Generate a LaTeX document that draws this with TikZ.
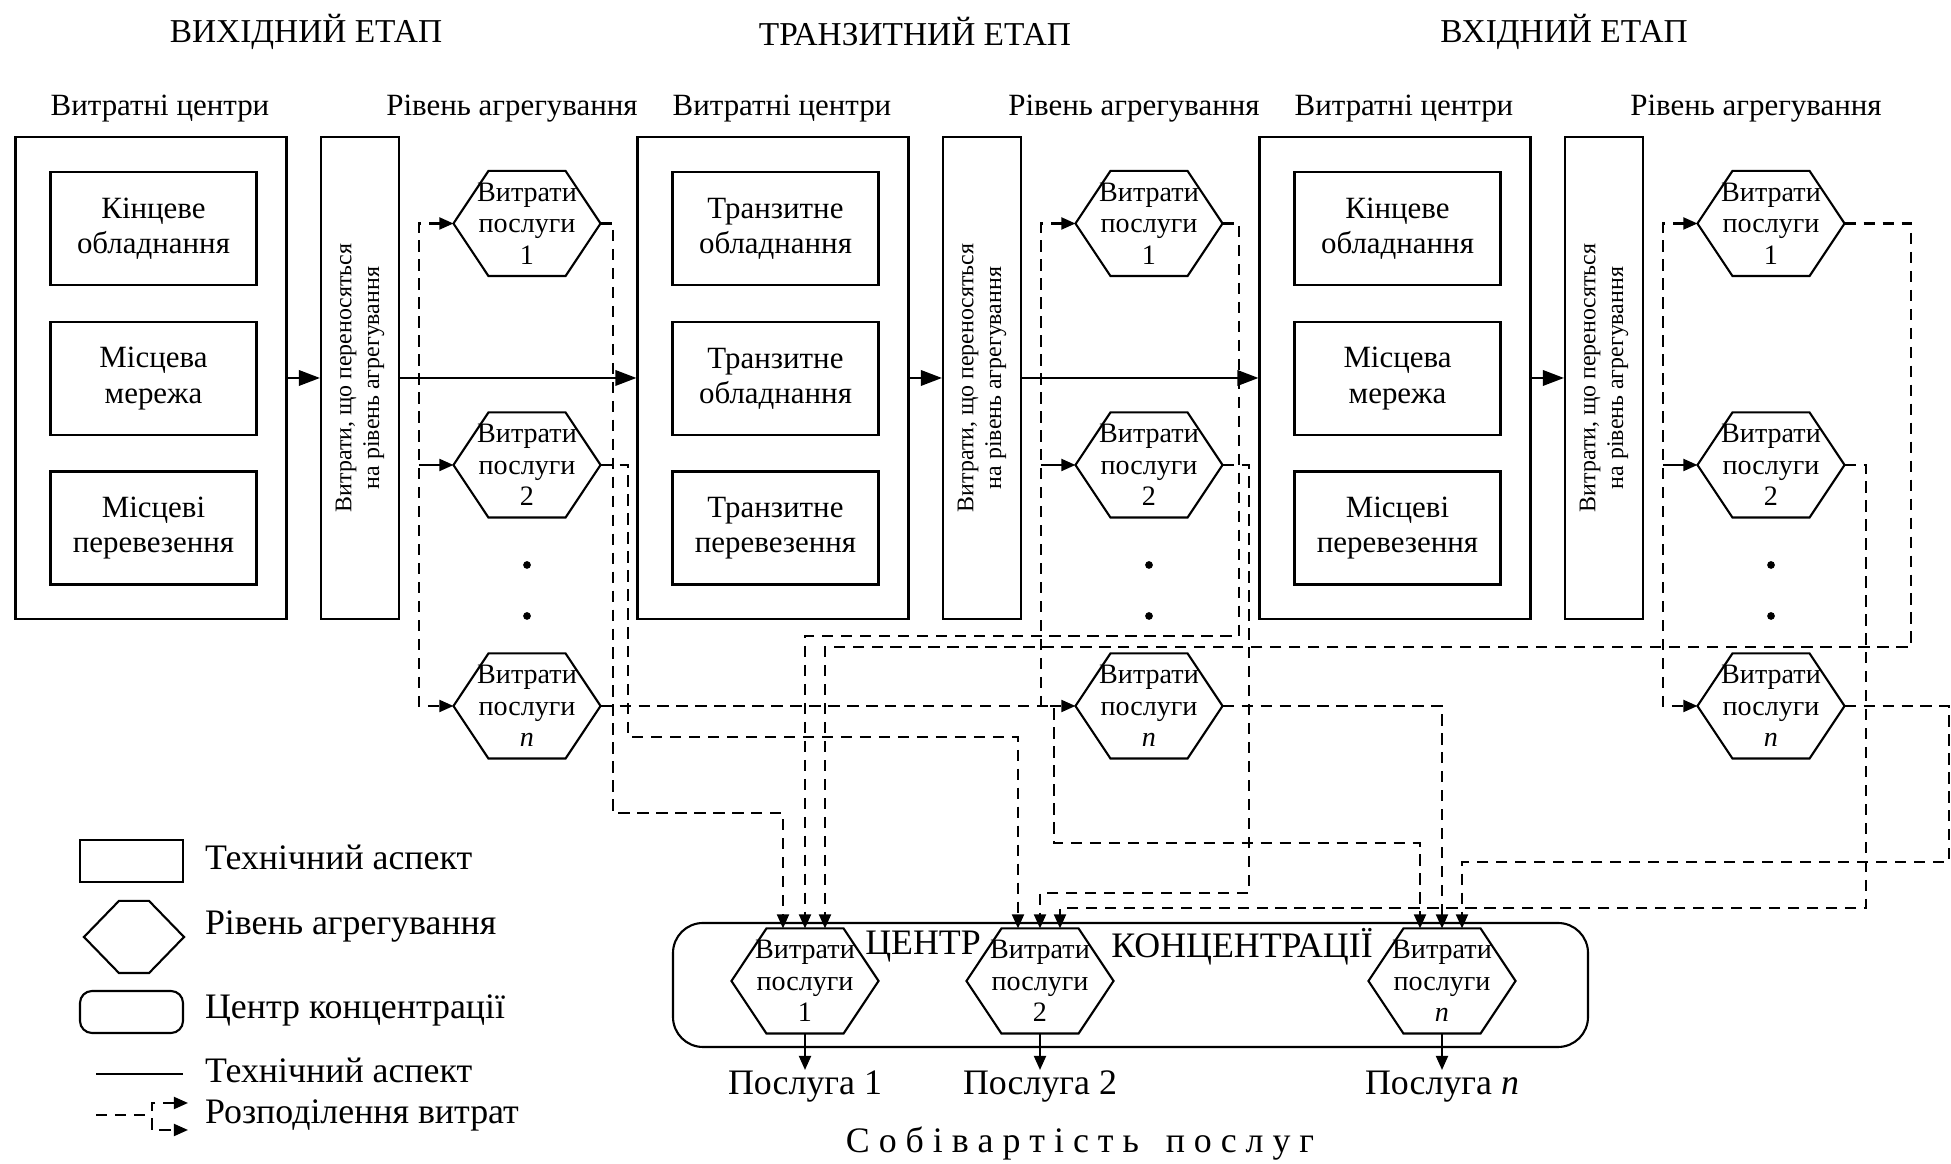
\documentclass[tikz,border=0pt]{standalone}
\usepackage{fontspec}
\setmainfont{Liberation Serif}
\usetikzlibrary{arrows.meta}
\newcommand{\fTitle}{\fontsize{9.5}{11}\selectfont}
\newcommand{\fSub}{\fontsize{8.8}{10}\selectfont}
\newcommand{\fHex}{\fontsize{8}{9}\selectfont}
\newcommand{\fBar}{\fontsize{6.8}{7.9}\selectfont}
\newcommand{\fBig}{\fontsize{10.2}{12}\selectfont}

\begin{document}
\begin{tikzpicture}[line width=0.6pt,
  >={Triangle[length=4pt,width=3.4pt]},
  box/.style={draw, inner sep=0pt},
  inbox/.style={box, minimum width=2.06cm, minimum height=1.13cm, align=center, font=\fSub},
  hexnode/.style={inner sep=0pt, minimum width=1.45cm, minimum height=1.03cm, align=center, font=\fHex},
  dist/.style={dash pattern=on 3.2pt off 2.2pt},
  bigarr/.style={-{Triangle[length=6pt,width=4.4pt]}}]
  \useasboundingbox (0,0) rectangle (19.51,11.64);
  % stage titles
  \node[font=\fTitle] (t1) at (3.06,11.32) {ВИХІДНИЙ ЕТАП};
  \node[font=\fTitle] (t2) at (9.15,11.32) {ТРАНЗИТНИЙ ЕТАП};
  \node[font=\fTitle] (t3) at (15.64,11.32) {ВХІДНИЙ ЕТАП};
  % the three stages
  \foreach \s/\dx/\ta/\tb/\tc in {1/0/{Кінцеве\\обладнання}/{Місцева\\мережа}/{Місцеві\\перевезення},
      2/6.22/{Транзитне\\обладнання}/{Транзитне\\обладнання}/{Транзитне\\перевезення},
      3/12.44/{Кінцеве\\обладнання}/{Місцева\\мережа}/{Місцеві\\перевезення}} {
    \node[font=\fSub] (sa\s) at (1.60+\dx,10.55) {Витратні центри};
    \node[font=\fSub] (sb\s) at (5.12+\dx,10.55) {Рівень агрегування};
    \node[box, minimum width=2.71cm, minimum height=4.82cm] (o\s) at (1.51+\dx,7.86) {};
    \node[inbox] (k\s-1) at (1.535+\dx,9.355) {\ta};
    \node[inbox] (k\s-2) at (1.535+\dx,7.855) {\tb};
    \node[inbox] (k\s-3) at (1.535+\dx,6.36) {\tc};
    \node[box, minimum width=0.78cm, minimum height=4.82cm] (b\s) at (3.60+\dx,7.86) {};
    \node[rotate=90, align=center, font=\fBar] (bt\s) at (b\s) {Витрати, що переносяться\\на рівень агрегування};
    \draw[bigarr] (o\s) -- (b\s);
    \foreach \j/\y/\lab in {1/9.405/1, 2/6.99/2, n/4.58/\textit{n}}
      \node[hexnode] (h\s-\j) at (5.27+\dx,\y) {Витрати\\послуги\\\lab};
    \fill (5.27+\dx,5.99) circle (1.1pt) (5.27+\dx,5.48) circle (1.1pt);
    \draw[dist,<->] (h\s-1.west) -- ++(-0.345,0) |- (h\s-n.west);
    \draw[->] ([xshift=-3.45mm]h\s-2.west) -- (h\s-2.west);
  }
  \draw[bigarr] (b1) -- (o2);
  \draw[bigarr] (b2) -- (o3);
  % concentration centre
  \node[box, rounded corners=3mm, minimum width=9.15cm, minimum height=1.24cm] (cc) at (11.305,1.79) {};
  \foreach \j/\x/\lab in {1/8.05/1, 2/10.40/2, n/14.42/\textit{n}} {
    \node[hexnode] (c\j) at (\x,1.83) {Витрати\\послуги\\\lab};
    \node[font=\fBig, anchor=north, inner sep=0pt] (p\j) at (\x,0.94) {Послуга \lab};
    \draw[->] (c\j) -- (p\j);
  }
  \node[font=\fBig] (ct) at (9.23,2.17) {ЦЕНТР};
  \node[font=\fBig] (ck) at (12.42,2.17) {КОНЦЕНТРАЦІЇ};
  \node[font=\fBig] (sum) at (10.80,0.20) {С о б і в а р т і с т ь\ \ \ п о с л у г};
  % cost distribution to the centre
  \foreach \h/\ex/\ey/\c/\sh in {h1-1/0.125/-5.895/c1/-2.2mm, h1-2/0.275/-2.72/c2/-2.2mm,
      h1-n/4.53/-1.37/cn/-2.2mm, h2-1/0.165/-4.125/c1/0mm, h2-2/0.265/-4.28/c2/0mm,
      h2-n/0.1/0/cn/0mm, h3-1/0.665/-4.235/c1/2mm, h3-2/0.215/-4.43/c2/2mm,
      h3-n/1.045/-1.56/cn/2mm}
    \draw[dist,->] (\h.east) -- ++(\ex,0) -- ++(0,\ey) -| ([xshift=\sh]\c.north);
  % legend
  \node[box, minimum width=1.03cm, minimum height=0.42cm] (lr) at (1.315,3.03) {};
  \node[hexnode, minimum width=0.98cm, minimum height=0.70cm] (lh) at (1.34,2.27) {};
  \node[box, rounded corners=1.2mm, minimum width=1.03cm, minimum height=0.42cm] (lc) at (1.315,1.52) {};
  \coordinate (la) at (0.96,0.90);
  \coordinate (lb) at (1.83,0.90);
  \draw (la) -- (lb);
  \coordinate (ld) at (0.96,0.49);
  \coordinate (le) at (1.52,0.49);
  \draw[dist] (ld) -- (le);
  \coordinate (lp) at (1.88,0.61);
  \coordinate (lq) at (1.88,0.34);
  \draw[dist,<->] (lp) -- ++(-0.36,0) |- (lq);
  \foreach \i/\y/\txt in {1/3.07/Технічний аспект, 2/2.37/Рівень агрегування,
      3/1.54/Центр концентрації, 4/0.94/Технічний аспект, 5/0.49/Розподілення витрат}
    \node[font=\fBig, anchor=west, inner sep=0pt] (lt\i) at (2.04,\y) {\txt};
  % hexagon outlines
  \foreach \h in {h1-1,h1-2,h1-n,h2-1,h2-2,h2-n,h3-1,h3-2,h3-n,c1,c2,cn,lh}
    \draw (\h.west) -- ([xshift=3.5mm]\h.north west) -- ([xshift=-3.5mm]\h.north east)
      -- (\h.east) -- ([xshift=-3.5mm]\h.south east) -- ([xshift=3.5mm]\h.south west) -- cycle;
\end{tikzpicture}
\end{document}
